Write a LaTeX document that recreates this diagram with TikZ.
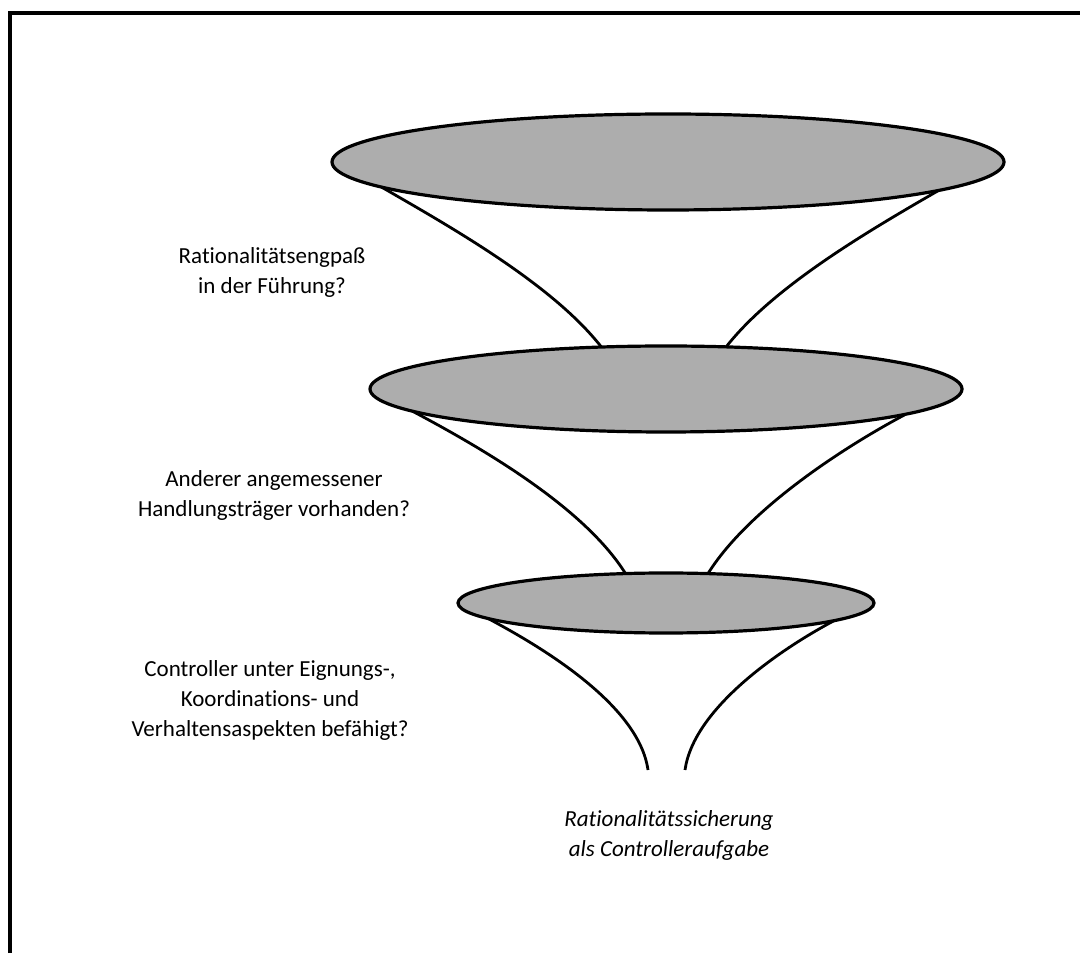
\documentclass[tikz,border=0pt]{standalone}
\usepackage{fontspec}
\setmainfont{Carlito}[Ligatures=NoCommon]
\usetikzlibrary{shapes.geometric}
\begin{document}
\begin{tikzpicture}[x=1pt, y=1pt,
    disc/.style={ellipse, draw, line width=3.2pt, fill=black!32, inner sep=0pt, outer sep=0pt},
    rim/.style={line width=2.8pt, looseness=0.75},
    question/.style={align=center, font=\fontsize{23}{30}\selectfont}]
        \useasboundingbox (0,0) rectangle (1091,953);
        \draw [line width=4pt] (10,0) -- (10,940) -- (1080,940);

        \node [disc, minimum width=672pt, minimum height=96pt] (E1) at (668,791) {};
        \node [disc, minimum width=592pt, minimum height=86pt] (E2) at (666,564) {};
        \node [disc, minimum width=416pt, minimum height=60pt] (E3) at (666,350) {};

        \coordinate (F1) at (648,183);
        \coordinate (F2) at (685,183);

        \draw [rim] (E1.185.8) to[out=-30, in=128] (E2.147.5);
        \draw [rim] (E1.354.5) to[out=210, in=52] (E2.35.4);
        \draw [rim] (E2.185.4) to[out=-28, in=122] (E3.144.4);
        \draw [rim] (E2.354) to[out=208, in=58] (E3.35);
        \draw [rim] (E3.185.9) to[out=-28, in=98] (F1);
        \draw [rim] (E3.354.4) to[out=208, in=82] (F2);

        \node [question] (Q1) at (272,681) {Rationalitätsengpaß\\in der Führung?};
        \node [question] (Q2) at (274,458) {Anderer angemessener\\Handlungsträger vorhanden?};
        \node [question] (Q3) at (270,253) {Controller unter Eignungs-,\\Koordinations- und\\Verhaltensaspekten befähigt?};
        \node [question, font=\fontsize{23}{30}\selectfont\itshape] (R) at (669,118) {Rationalitätssicherung\\als Controlleraufgabe};
\end{tikzpicture}
\end{document}
